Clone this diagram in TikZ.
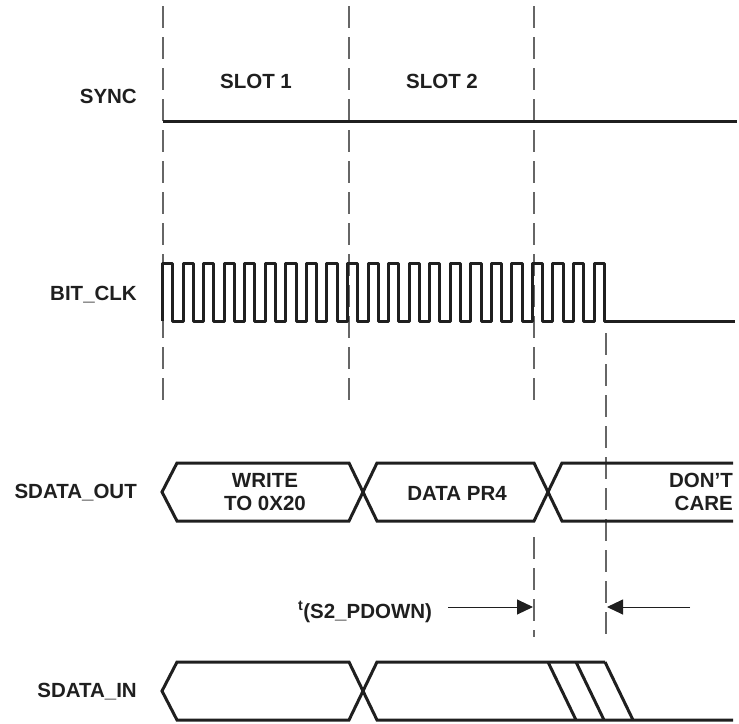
\documentclass[tikz,border=0pt]{standalone}
\usepackage{fontspec}
\setmainfont{Liberation Sans}
\usetikzlibrary{arrows.meta}

\begin{document}
\begin{tikzpicture}[x=1pt,y=-1pt,
					every node/.style={font=\fontsize{20.5}{23}\selectfont\bfseries, text=black!88, inner sep=0pt},
					lbl/.style={anchor=east, align=right},
					sig/.style={line width=3pt, black!88},
					grid/.style={line width=1.1pt, black!60, dash pattern=on 22pt off 9pt},
					timing/.style={line width=1pt, black!88, -{Triangle[length=16pt,width=15pt]}}]
				\useasboundingbox (0,0) rectangle (739,723);
				\foreach \x in {163,349,534}
					\draw[grid] (\x,6) -- (\x,404);
				\draw[grid] (534,537) -- (534,637);
				\draw[grid] (606,333) -- (606,637);
				\node[lbl] (sync) at (137,96) {SYNC};
				\node (slota) at (256,81) {SLOT 1};
				\node (slotb) at (442,81) {SLOT 2};
				\draw[sig] (163,121) -- (737,121);
				\node[lbl] (bitclk) at (137,295) {BIT\_CLK};
				\draw[sig, line join=round] (162.5,321)
					\foreach \k in {0,...,21} { -- ++(0,-58) -- ++(10.275,0) -- ++(0,58) -- ++(10.275,0) }
					-- (735,321);
				\node[lbl] (sdout) at (137,493) {SDATA\_OUT};
				\draw[sig] (733,463) -- (562,463) -- (534,521) -- (377,521) -- (349,463) -- (177,463) -- (162,492)
					-- (177,521) -- (349,521) -- (377,463) -- (534,463) -- (562,521) -- (733,521);
				\node[align=center] (write) at (265,492) {WRITE\\TO 0X20};
				\node (datapr) at (457,493) {DATA PR4};
				\node[lbl] (dontcare) at (733,492) {DON'T\\CARE};
				\node (tpd) at (365,612) {\textsuperscript{t}(S2\_PDOWN)};
				\coordinate (ta) at (448,607);
				\coordinate (tb) at (533,607);
				\coordinate (tc) at (690,607);
				\coordinate (td) at (607,607);
				\draw[timing] (ta) -- (tb);
				\draw[timing] (tc) -- (td);
				\node[lbl] (sdin) at (137,692) {SDATA\_IN};
				\draw[sig] (605,662) -- (377,662) -- (349,720) -- (177,720) -- (162,691) -- (177,662)
					-- (349,662) -- (377,720) -- (733,720);
				\foreach \x in {548,576,605}
					\draw[sig] (\x,662) -- ++(28,58);
			\end{tikzpicture}
\end{document}
